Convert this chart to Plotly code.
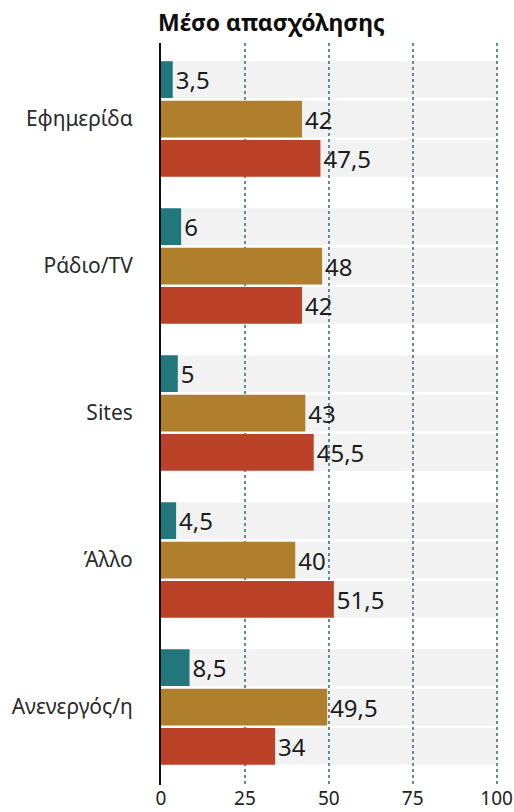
import plotly.graph_objects as go

# Employment-status categories and the three series shown per category
categories = ["Εφημερίδα", "Ράδιο/TV", "Sites", "Άλλο", "Ανενεργός/η"]
series_names = ["Σειρά 1", "Σειρά 2", "Σειρά 3"]
series_1 = [3.5, 6, 5, 4.5, 8.5]
series_2 = [42, 48, 43, 40, 49.5]
series_3 = [47.5, 42, 45.5, 51.5, 34]
x_ticks = [0, 25, 50, 75, 100]

series_values = [series_1, series_2, series_3]
colors = ["#21777b", "#b07f2e", "#bb4228"]
offsets = [-0.268, 0.0, 0.268]
bar_width = 0.25
full_scale = 100

font_family = "Noto Sans, Open Sans, DejaVu Sans, sans-serif"


def fmt(v):
    s = f"{v:g}"
    return s.replace(".", ",")


fig = go.Figure()

# light grey tracks behind each bar, drawn under the gridlines
for off in offsets:
    for i in range(len(categories)):
        fig.add_shape(
            type="rect", xref="x", yref="y", layer="below",
            x0=0, x1=full_scale,
            y0=i + off - bar_width / 2, y1=i + off + bar_width / 2,
            fillcolor="#f2f2f2", line_width=0,
        )

for name, vals, col, off in zip(series_names, series_values, colors, offsets):
    fig.add_trace(go.Bar(
        name=name,
        orientation="h",
        x=vals,
        y=[i + off for i in range(len(categories))],
        width=bar_width,
        marker=dict(color=col, line_width=0),
        text=[fmt(v) for v in vals],
        textposition="outside",
        textfont=dict(family=font_family, size=24, color="#1c1c1c"),
        cliponaxis=False,
        hoverinfo="skip",
    ))

fig.add_annotation(
    text="<b>Μέσο απασχόλησης</b>",
    xref="paper", yref="paper", x=0, y=1,
    xanchor="left", yanchor="bottom", xshift=-5, yshift=3,
    showarrow=False,
    font=dict(family=font_family, size=23, color="#0d0d0d", weight=900),
)

fig.update_layout(
    width=514, height=812,
    margin=dict(l=161, r=14, t=43, b=27),
    paper_bgcolor="white", plot_bgcolor="white",
    showlegend=False,
    barmode="overlay",
    font=dict(family=font_family, color="#222222"),
    xaxis=dict(
        range=[0, 101],
        tickvals=x_ticks,
        ticktext=[str(t) for t in x_ticks],
        showgrid=True, gridcolor="#5f8f9c", gridwidth=1.5, griddash="dot",
        zeroline=False, showline=False,
        tickfont=dict(size=19, color="#222222"),
        ticks="", ticklabelstandoff=0, automargin=False, fixedrange=True,
    ),
    yaxis=dict(
        range=[4.53, -0.517],
        tickvals=list(range(len(categories))),
        ticktext=categories,
        showgrid=False, zeroline=False,
        showline=True, linecolor="#111111", linewidth=2,
        ticks="", ticklabelstandoff=22, automargin=False,
        tickfont=dict(size=21, color="#2a2a2a"),
        fixedrange=True,
    ),
)

fig.write_html("out.html")
